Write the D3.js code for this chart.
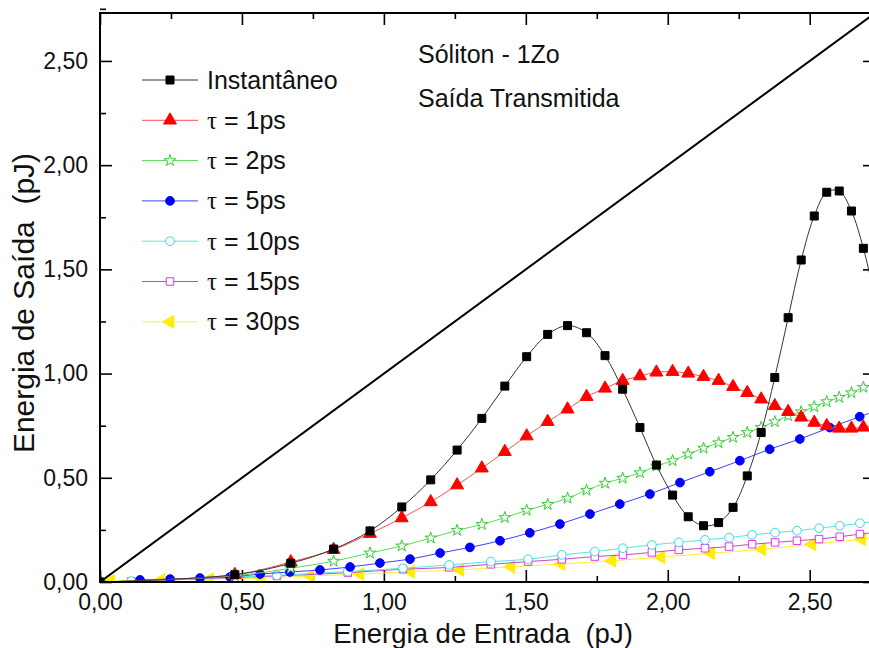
<!DOCTYPE html>
<html>
<head>
<meta charset="utf-8">
<script src="https://cdn.jsdelivr.net/npm/d3@7"></script>
<style>
  body { margin: 0; background: #fff; }
  svg { display: block; font-family: "Liberation Sans", Arial, sans-serif; }
</style>
</head>
<body>
<script>
// eixos
const xTicks = [0, 0.5, 1, 1.5, 2, 2.5];
const yTicks = [0, 0.5, 1, 1.5, 2, 2.5];
const minorTicks = [0.25, 0.75, 1.25, 1.75, 2.25, 2.75];

// reta de referência (saída = entrada)
const xLin = [0, 2.73];
const yLin = [0, 2.73];

// Instantâneo, tau = 1ps e tau = 2ps usam a mesma amostragem
const xInst = [0, 0.475, 0.672, 0.823, 0.951, 1.063, 1.165, 1.258, 1.345, 1.426, 1.503, 1.577, 1.647, 1.714,
  1.779, 1.841, 1.902, 1.960, 2.017, 2.072, 2.126, 2.179, 2.230, 2.280, 2.329, 2.377, 2.424, 2.470, 2.516,
  2.560, 2.604, 2.647, 2.689, 2.731];
const yInst = [0, 0.035, 0.09, 0.158, 0.245, 0.36, 0.49, 0.633, 0.785, 0.940, 1.081, 1.188, 1.230, 1.196,
  1.086, 0.925, 0.741, 0.561, 0.417, 0.313, 0.270, 0.285, 0.358, 0.509, 0.717, 0.981, 1.268, 1.545, 1.756,
  1.870, 1.876, 1.780, 1.601, 1.36];
const yTau1 = [0, 0.035, 0.096, 0.155, 0.232, 0.307, 0.384, 0.465, 0.546, 0.625, 0.700, 0.769, 0.829, 0.889,
  0.929, 0.966, 0.988, 1.006, 1.009, 1.001, 0.985, 0.966, 0.937, 0.908, 0.877, 0.845, 0.817, 0.790, 0.765,
  0.749, 0.737, 0.737, 0.742, 0.75];
const yTau2 = [0, 0.03, 0.066, 0.10, 0.139, 0.173, 0.211, 0.248, 0.276, 0.309, 0.344, 0.372, 0.402, 0.440,
  0.474, 0.498, 0.524, 0.556, 0.582, 0.614, 0.642, 0.668, 0.694, 0.717, 0.742, 0.769, 0.797, 0.817, 0.841,
  0.865, 0.886, 0.908, 0.934, 0.955];

const xTau5 = [0.141, 0.247, 0.352, 0.458, 0.564, 0.669, 0.775, 0.881, 0.986, 1.092, 1.198, 1.303, 1.409,
  1.514, 1.620, 1.726, 1.831, 1.937, 2.043, 2.148, 2.254, 2.359, 2.465, 2.571, 2.676, 2.782];
const yTau5 = [0.01, 0.014, 0.019, 0.024, 0.038, 0.048, 0.058, 0.072, 0.091, 0.110, 0.139, 0.166, 0.198,
  0.236, 0.278, 0.326, 0.374, 0.422, 0.477, 0.529, 0.582, 0.637, 0.686, 0.741, 0.793, 0.845];

// tau = 10ps e 15ps
const xTau10 = [0.11, 0.623, 0.873, 1.067, 1.230, 1.377, 1.508, 1.627, 1.743, 1.842, 1.944, 2.039, 2.131,
  2.216, 2.297, 2.378, 2.455, 2.533, 2.606, 2.677, 2.746];
const yTau10 = [0.004, 0.032, 0.05, 0.066, 0.082, 0.098, 0.109, 0.130, 0.146, 0.162, 0.178, 0.190, 0.202,
  0.213, 0.226, 0.237, 0.246, 0.258, 0.270, 0.282, 0.295];
const yTau15 = [0.004, 0.029, 0.045, 0.061, 0.070, 0.085, 0.098, 0.109, 0.122, 0.130, 0.142, 0.154, 0.162,
  0.170, 0.181, 0.190, 0.198, 0.206, 0.217, 0.230, 0.24];

const xTau30 = [0.039, 0.215, 0.387, 0.567, 0.740, 0.916, 1.095, 1.268, 1.448, 1.624, 1.803, 1.976, 2.152,
  2.332, 2.508, 2.684, 2.86];
const yTau30 = [0.005, 0.01, 0.014, 0.019, 0.029, 0.038, 0.049, 0.058, 0.073, 0.086, 0.102, 0.119, 0.138,
  0.157, 0.181, 0.205, 0.23];

// legenda: "Instantâneo" e valores de tau
const legendTau = [null, "1ps", "2ps", "5ps", "10ps", "15ps", "30ps"];

const zip = (xs, ys) => xs.map((x, i) => [x, ys[i]]);

const series = [
  { name: "Instantâneo", pts: zip(xInst, yInst), line: "#333", color: "#000", symbol: d3.symbolSquare, size: 64, fill: true },
  { pts: zip(xInst, yTau1), line: "#ff5050", color: "#ff0000", symbol: d3.symbolTriangle, size: 72, fill: true },
  { pts: zip(xInst, yTau2), line: "#55dd55", color: "#33cc33", symbol: d3.symbolStar, size: 42, fill: false },
  { pts: zip(xTau5, yTau5), line: "#4040ff", color: "#0000ff", symbol: d3.symbolCircle, size: 60, fill: true },
  { pts: zip(xTau10, yTau10), line: "#55e5e5", color: "#33dddd", symbol: d3.symbolCircle, size: 60, fill: false },
  { pts: zip(xTau10, yTau15), line: "#cc44cc", color: "#ee33ee", symbol: d3.symbolSquare, size: 56, fill: false },
  { pts: zip(xTau30, yTau30), line: "#ffee33", color: "#ffee00", symbol: d3.symbolTriangle, size: 70, fill: true, rot: -90 }
];

const width = 869, height = 648;
const x = d3.scaleLinear().domain([0, 2.73]).range([100, 875]);
const y = d3.scaleLinear().domain([0, 2.73]).range([582, 13]);
const fmt = v => d3.format(".2f")(v).replace(".", ",");

const svg = d3.select("body").append("svg")
  .attr("width", width)
  .attr("height", height);

svg.append("clipPath").attr("id", "plot")
  .append("rect")
  .attr("x", x(0)).attr("y", y(2.73))
  .attr("width", x(2.73) - x(0)).attr("height", y(0) - y(2.73));

// ticks maiores e menores, todos para dentro
function drawAxis(axis, tr, values, size, labels) {
  const g = svg.append("g")
    .attr("transform", tr)
    .call(axis.tickValues(values).tickSize(-size).tickPadding(12)
      .tickFormat(labels ? fmt : ""));
  g.select(".domain").remove();
  g.selectAll(".tick line").attr("stroke", "#000").attr("stroke-width", 1.6);
  g.selectAll(".tick text").attr("fill", "#111").style("font-size", "23px");
  return g;
}
drawAxis(d3.axisBottom(x), `translate(0,${y(0)})`, xTicks, 12, true);
drawAxis(d3.axisBottom(x), `translate(0,${y(0)})`, minorTicks, 6, false);
drawAxis(d3.axisTop(x), `translate(0,${y(2.73)})`, xTicks, 12, false);
drawAxis(d3.axisTop(x), `translate(0,${y(2.73)})`, minorTicks, 6, false);
drawAxis(d3.axisLeft(y), `translate(${x(0)},0)`, yTicks, 12, true);
drawAxis(d3.axisLeft(y), `translate(${x(0)},0)`, minorTicks, 6, false);
drawAxis(d3.axisRight(y), `translate(${x(2.73)},0)`, yTicks, 12, false);
drawAxis(d3.axisRight(y), `translate(${x(2.73)},0)`, minorTicks, 6, false);

const plot = svg.append("g").attr("clip-path", "url(#plot)");

// reta saída = entrada
plot.append("path")
  .datum(zip(xLin, yLin))
  .attr("fill", "none")
  .attr("stroke", "#000")
  .attr("stroke-width", 2)
  .attr("d", d3.line().x(d => x(d[0])).y(d => y(d[1])));

const line = d3.line().curve(d3.curveCatmullRom).x(d => x(d[0])).y(d => y(d[1]));

// desenhar de trás para frente: Instantâneo por cima
series.slice().reverse().forEach(s => {
  plot.append("path")
    .datum(s.pts)
    .attr("fill", "none")
    .attr("stroke", s.line)
    .attr("stroke-width", 1)
    .attr("d", line);
  plot.selectAll(null)
    .data(s.pts)
    .enter()
    .append("path")
    .attr("transform", d => `translate(${x(d[0])},${y(d[1])}) rotate(${s.rot || 0})`)
    .attr("d", d3.symbol(s.symbol, s.size)())
    .attr("fill", s.fill ? s.color : "#fff")
    .attr("stroke", s.color)
    .attr("stroke-width", 1);
});

// moldura
svg.append("rect")
  .attr("x", x(0)).attr("y", y(2.73))
  .attr("width", x(2.73) - x(0)).attr("height", y(0) - y(2.73))
  .attr("fill", "none")
  .attr("stroke", "#000")
  .attr("stroke-width", 2);

// legenda
const legend = svg.append("g").attr("transform", "translate(142,80)");
series.forEach((s, i) => {
  const row = legend.append("g").attr("transform", `translate(0,${i * 40.3})`);
  row.append("line")
    .attr("x1", 0).attr("x2", 56)
    .attr("stroke", s.line).attr("stroke-width", 1);
  row.append("path")
    .attr("transform", `translate(28,0) rotate(${s.rot || 0})`)
    .attr("d", d3.symbol(s.symbol, s.size)())
    .attr("fill", s.fill ? s.color : "#fff")
    .attr("stroke", s.color);
  const t = row.append("text")
    .attr("x", 65).attr("y", 8.5)
    .attr("fill", "#111")
    .style("font-size", "25px")
    .style("white-space", "pre");
  if (legendTau[i] === null) {
    t.text(s.name);
  } else {
    t.append("tspan").style("font-family", "'Liberation Serif', 'DejaVu Serif', serif").text("τ");
    t.append("tspan").text(" = " + legendTau[i]);
  }
});

// anotações
svg.append("text").attr("x", 418).attr("y", 63)
  .attr("fill", "#111").style("font-size", "25px").text("Sóliton - 1Zo");
svg.append("text").attr("x", 418).attr("y", 107)
  .attr("fill", "#111").style("font-size", "25px").text("Saída Transmitida");

// títulos dos eixos
svg.append("text")
  .attr("x", 483).attr("y", 643)
  .attr("text-anchor", "middle")
  .attr("fill", "#111")
  .style("font-size", "27.5px")
  .style("white-space", "pre")
  .text("Energia de Entrada  (pJ)");
svg.append("text")
  .attr("transform", "rotate(-90)")
  .attr("x", -303).attr("y", 34)
  .attr("text-anchor", "middle")
  .attr("fill", "#111")
  .style("font-size", "30px")
  .style("white-space", "pre")
  .text("Energia de Saída  (pJ)");
</script>
</body>
</html>
